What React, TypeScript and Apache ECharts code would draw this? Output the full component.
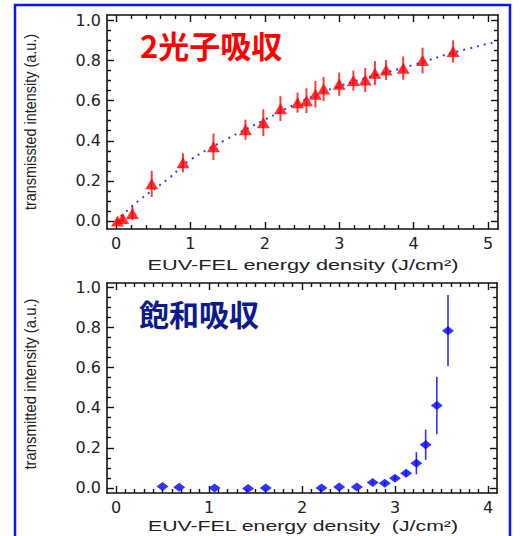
import React, { useEffect, useRef } from "react";
import * as echarts from "echarts";

// ---- Top panel: two-photon absorption ----
const topX = [0.02, 0.09, 0.22, 0.48, 0.9, 1.31, 1.74, 1.98, 2.21, 2.44, 2.56, 2.68, 2.79, 3.0, 3.19, 3.35, 3.48, 3.63, 3.86, 4.12, 4.53];
const topY = [0.0, 0.012, 0.037, 0.185, 0.29, 0.37, 0.455, 0.49, 0.56, 0.59, 0.6, 0.632, 0.658, 0.682, 0.7, 0.703, 0.737, 0.753, 0.762, 0.8, 0.845];
const topErr = [0.01, 0.02, 0.033, 0.065, 0.047, 0.066, 0.05, 0.067, 0.062, 0.05, 0.062, 0.066, 0.06, 0.058, 0.05, 0.06, 0.06, 0.05, 0.058, 0.064, 0.055];
const fitX = [0, 0.3, 0.7, 1.0, 1.5, 2.0, 2.5, 3.0, 3.5, 4.0, 4.5, 5.13];
const fitY = [0, 0.1, 0.21, 0.305, 0.41, 0.505, 0.598, 0.672, 0.728, 0.778, 0.836, 0.895];

// ---- Bottom panel: saturable absorption ----
const botX = [0.5, 0.68, 1.06, 1.42, 1.61, 2.21, 2.4, 2.59, 2.76, 2.89, 3.0, 3.12, 3.23, 3.33, 3.45, 3.57];
const botY = [0.007, 0.004, 0.0, -0.003, 0.0, 0.0, 0.005, 0.005, 0.027, 0.023, 0.048, 0.073, 0.123, 0.215, 0.41, 0.783];
const botErr = [0, 0, 0, 0, 0, 0, 0, 0, 0.008, 0.008, 0.01, 0.015, 0.055, 0.075, 0.143, 0.177];

// ---- Tick values ----
const topXMajor = [0, 1, 2, 3, 4, 5];
const botXMajor = [0, 1, 2, 3, 4];
const yMajor = [0, 0.2, 0.4, 0.6, 0.8, 1.0];

const topTitle = "2光子吸収";
const botTitle = "飽和吸収";
const topXName = "EUV-FEL energy density (J/cm²)";
const botXName = "EUV-FEL energy density  (J/cm²)";
const topYName = "transmissted intensity (a.u.)";
const botYName = "transmitted intensity (a.u.)";

function minorTicks(from: number, to: number, step: number, major: number[]) {
  const out: number[] = [];
  const n = Math.round((to - from) / step);
  for (let i = 0; i <= n; i++) {
    const v = Math.round((from + i * step) * 1000) / 1000;
    if (!major.some((m) => Math.abs(m - v) < 1e-6)) out.push(v);
  }
  return out;
}

const AX = "#111";

function axis(opts: any) {
  const { gridIndex, position, min, max, ticks, len, labels, fmt, showLine } = opts;
  return {
    type: "value",
    gridIndex,
    position,
    min,
    max,
    axisLine: { show: showLine, onZero: false, lineStyle: { color: AX, width: 1.6 } },
    axisTick: { show: true, inside: true, length: len, customValues: ticks, lineStyle: { color: AX, width: 1.4 } },
    axisLabel: labels
      ? {
          show: true,
          customValues: labels,
          formatter: fmt,
          fontFamily: "DejaVu Sans",
          fontSize: 16,
          color: "#222",
          margin: 6,
        }
      : { show: false },
    splitLine: { show: false },
    minorTick: { show: false },
    minorSplitLine: { show: false },
  };
}

function errRender(color: string, width: number) {
  return (params: any, api: any) => {
    const x = api.value(0);
    const y = api.value(1);
    const e = api.value(2);
    if (!e) return null;
    const p1 = api.coord([x, y - e]);
    const p2 = api.coord([x, y + e]);
    return {
      type: "line",
      shape: { x1: p1[0], y1: p1[1], x2: p2[0], y2: p2[1] },
      style: { stroke: color, lineWidth: width },
    };
  };
}

function label(text: string, x: number, y: number, font: string, fill: string, alignLeft: boolean, extra: any = {}) {
  return {
    type: "text",
    x,
    y,
    ...extra,
    style: {
      text,
      fill,
      font,
      textAlign: alignLeft ? "left" : "center",
      textVerticalAlign: "middle",
      align: alignLeft ? "left" : "center",
      verticalAlign: "middle",
    },
    z: 10,
  };
}

export default function App() {
  const ref = useRef<HTMLDivElement>(null);
  useEffect(() => {
    document.body.style.margin = "0";
    const chart = echarts.init(ref.current!, null, { renderer: "svg" });

    const tMin = -0.121, tMax = 5.134, tyMin = -0.04, tyMax = 1.027;
    const bMin = -0.097, bMax = 4.097, byMin = -0.025, byMax = 1.02;

    const topXMinor = minorTicks(0, 5, 0.2, topXMajor);
    const botXMinor = minorTicks(0, 4, 0.1, botXMajor);
    const yMinor = minorTicks(0, 1, 0.05, yMajor);
    const intFmt = (v: number) => String(Math.round(v));
    const decFmt = (v: number) => v.toFixed(1);

    const xAxis = [
      axis({ gridIndex: 0, position: "bottom", min: tMin, max: tMax, ticks: topXMajor, len: 7, labels: topXMajor, fmt: intFmt, showLine: true }),
      axis({ gridIndex: 0, position: "bottom", min: tMin, max: tMax, ticks: topXMinor, len: 4, showLine: false }),
      axis({ gridIndex: 0, position: "top", min: tMin, max: tMax, ticks: topXMajor, len: 7, showLine: true }),
      axis({ gridIndex: 0, position: "top", min: tMin, max: tMax, ticks: topXMinor, len: 4, showLine: false }),
      axis({ gridIndex: 1, position: "bottom", min: bMin, max: bMax, ticks: botXMajor, len: 7, labels: botXMajor, fmt: intFmt, showLine: true }),
      axis({ gridIndex: 1, position: "bottom", min: bMin, max: bMax, ticks: botXMinor, len: 4, showLine: false }),
      axis({ gridIndex: 1, position: "top", min: bMin, max: bMax, ticks: botXMajor, len: 7, showLine: true }),
      axis({ gridIndex: 1, position: "top", min: bMin, max: bMax, ticks: botXMinor, len: 4, showLine: false }),
    ];
    const yAxis = [
      axis({ gridIndex: 0, position: "left", min: tyMin, max: tyMax, ticks: yMajor, len: 7, labels: yMajor, fmt: decFmt, showLine: true }),
      axis({ gridIndex: 0, position: "left", min: tyMin, max: tyMax, ticks: yMinor, len: 4, showLine: false }),
      axis({ gridIndex: 0, position: "right", min: tyMin, max: tyMax, ticks: yMajor, len: 7, showLine: true }),
      axis({ gridIndex: 0, position: "right", min: tyMin, max: tyMax, ticks: yMinor, len: 4, showLine: false }),
      axis({ gridIndex: 1, position: "left", min: byMin, max: byMax, ticks: yMajor, len: 7, labels: yMajor, fmt: decFmt, showLine: true }),
      axis({ gridIndex: 1, position: "left", min: byMin, max: byMax, ticks: yMinor, len: 4, showLine: false }),
      axis({ gridIndex: 1, position: "right", min: byMin, max: byMax, ticks: yMajor, len: 7, showLine: true }),
      axis({ gridIndex: 1, position: "right", min: byMin, max: byMax, ticks: yMinor, len: 4, showLine: false }),
    ];

    const option: any = {
      animation: false,
      backgroundColor: "#ffffff",
      grid: [
        { left: 107, top: 15, width: 391, height: 214, containLabel: false },
        { left: 107, top: 283, width: 390, height: 210, containLabel: false },
      ],
      xAxis,
      yAxis,
      series: [
        {
          type: "line",
          xAxisIndex: 0,
          yAxisIndex: 0,
          data: fitX.map((x, i) => [x, fitY[i]]),
          smooth: 0.4,
          showSymbol: false,
          symbol: "none",
          lineStyle: { color: "#3a3aff", width: 2, type: [2, 5] },
          z: 2,
        },
        {
          type: "custom",
          xAxisIndex: 0,
          yAxisIndex: 0,
          data: topX.map((x, i) => [x, topY[i], topErr[i]]),
          encode: { x: 0, y: 1 },
          renderItem: errRender("#ff3b3b", 2),
          z: 3,
        },
        {
          type: "scatter",
          xAxisIndex: 0,
          yAxisIndex: 0,
          data: topX.map((x, i) => [x, topY[i]]),
          symbol: "triangle",
          symbolSize: [13, 11],
          itemStyle: { color: "#ff0000" },
          z: 4,
        },
        {
          type: "custom",
          xAxisIndex: 4,
          yAxisIndex: 4,
          data: botX.map((x, i) => [x, botY[i], botErr[i]]),
          encode: { x: 0, y: 1 },
          renderItem: errRender("#3030ff", 1.6),
          z: 3,
        },
        {
          type: "scatter",
          xAxisIndex: 4,
          yAxisIndex: 4,
          data: botX.map((x, i) => [x, botY[i]]),
          symbol: "diamond",
          symbolSize: [12, 9],
          itemStyle: { color: "#0000ff" },
          z: 4,
        },
      ],
      graphic: [
        {
          type: "rect",
          shape: { x: 15, y: 5, width: 495, height: 560 },
          style: { fill: "none", stroke: "#1212ea", lineWidth: 2.5 },
          silent: true,
          z: 0,
        },
        label(topTitle, 140, 44, 'bold 31px "Noto Sans CJK JP"', "#ff0000", true),
        label(botTitle, 139, 313, 'bold 30px "Noto Sans CJK JP"', "#0b1a8f", true),
        label(topXName, 303, 265, '15px "Liberation Sans"', "#222", false, { scaleX: 1.45 }),
        label(botXName, 303, 526, '14px "Liberation Sans"', "#222", false, { scaleX: 1.52 }),
        label(topYName, 30, 122, '16px "Liberation Sans"', "#222", false, { rotation: Math.PI / 2, scaleX: 0.9 }),
        label(botYName, 30, 384, '16px "Liberation Sans"', "#222", false, { rotation: Math.PI / 2, scaleX: 0.93 }),
      ],
    };

    chart.setOption(option);
    return () => chart.dispose();
  }, []);

  return (
    <div
      ref={ref}
      style={{ width: 520, height: 536, position: "absolute", left: 0, top: 0, background: "#fff" }}
    />
  );
}
